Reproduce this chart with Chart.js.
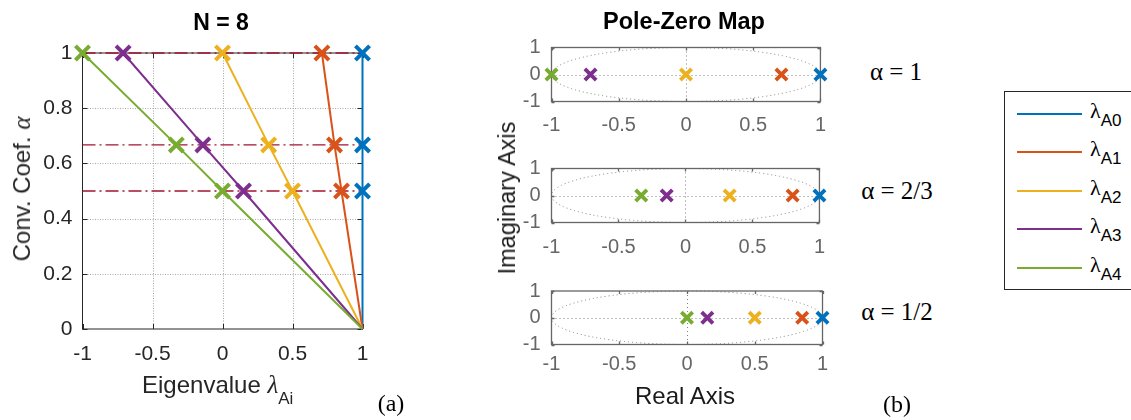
<!DOCTYPE html>
<html>
<head>
<meta charset="utf-8">
<script src="https://cdn.jsdelivr.net/npm/chart.js@4.4.1/dist/chart.umd.min.js"></script>
<style>
  html, body { margin: 0; padding: 0; background: #fff; }
  body { width: 1131px; height: 420px; overflow: hidden; position: relative; }
  canvas { position: absolute; }
  .t { position: absolute; white-space: nowrap; line-height: 1; transform: translate(-50%, -50%); }
  .sans { font-family: 'Liberation Sans', Arial, Helvetica, sans-serif; }
  .serif { font-family: 'Liberation Serif', 'Times New Roman', serif; }
  .it { font-family: 'Liberation Serif', 'Times New Roman', serif; font-style: italic; line-height: 0; }
  .sub { position: relative; line-height: 0; }
  #legend { position: absolute; left: 1004px; top: 91px; width: 150px; height: 199px;
            border: 1px solid #262626; box-sizing: border-box; background: #fff; }
  .lg-line { position: absolute; height: 2px; }
  .lg-text { position: absolute; white-space: nowrap; line-height: 1; color: #000; }
</style>
</head>
<body>
<canvas id="eig" width="400" height="420" style="left:0;top:0"></canvas>
<canvas id="pz1" width="360" height="140" style="left:480px;top:0"></canvas>
<canvas id="pz2" width="360" height="130" style="left:480px;top:140px"></canvas>
<canvas id="pz3" width="360" height="150" style="left:480px;top:270px"></canvas>

<div class="t sans" style="left:221px;top:22px;font-size:23px;font-weight:bold;color:#000">N = 8</div>
<div class="t sans" style="left:684px;top:22px;font-size:23.5px;font-weight:bold;color:#000">Pole-Zero Map</div>

<div class="sans" style="position:absolute;left:142px;top:373px;font-size:24px;line-height:24px;color:#262626;white-space:nowrap">Eigenvalue <span class="it" style="font-size:25px">&lambda;</span><span class="sub" style="font-size:17px;top:11px">Ai</span></div>
<div class="sans" style="position:absolute;left:22px;top:189px;font-size:24px;line-height:24px;color:#262626;white-space:nowrap;transform:translate(-50%,-50%) rotate(-90deg)">Conv. Coef. <span class="it" style="font-size:25px">&alpha;</span></div>

<div class="sans" style="position:absolute;left:507px;top:198px;font-size:23.5px;line-height:24px;color:#1a1a1a;white-space:nowrap;transform:translate(-50%,-50%) rotate(-90deg)">Imaginary Axis</div>
<div class="t sans" style="left:685px;top:396px;font-size:24px;color:#1a1a1a">Real Axis</div>

<div class="t serif" style="left:896px;top:71px;font-size:25px;color:#000">&alpha; = 1</div>
<div class="t serif" style="left:897px;top:190px;font-size:25px;color:#000">&alpha; = 2/3</div>
<div class="t serif" style="left:897px;top:311px;font-size:25px;color:#000">&alpha; = 1/2</div>

<div class="t serif" style="left:391px;top:403px;font-size:24px;color:#000">(a)</div>
<div class="t serif" style="left:897px;top:404px;font-size:24px;color:#000">(b)</div>

<div id="legend"></div>

<script>
// Series: eigenvalues λ_A0 … λ_A4 of the N = 8 system
const seriesNames = ['A0', 'A1', 'A2', 'A3', 'A4'];
const seriesColors = ['#0072BD', '#D95319', '#EDB120', '#7E2F8E', '#77AC30'];

// convergence coefficient values at which each eigenvalue is evaluated
const alphaValues = [1, 0.667, 0.5, 0];
// highlighted α levels (dash-dot guides)
const alphaLevels = [1, 0.667, 0.5];

// eigenvalue of each series at α = 1, 2/3, 1/2, 0
const lambdaA0 = [1, 1, 1, 1];
const lambdaA1 = [0.71, 0.80, 0.85, 1];
const lambdaA2 = [0, 0.33, 0.5, 1];
const lambdaA3 = [-0.71, -0.14, 0.15, 1];
const lambdaA4 = [-1, -0.33, 0, 1];
const lambdaSeries = [lambdaA0, lambdaA1, lambdaA2, lambdaA3, lambdaA4];

// pole locations (real parts, imaginary part 0) for the three α values, ordered A0 … A4
const polesAlpha1 = [1, 0.71, 0, -0.71, -1];
const polesAlpha23 = [1, 0.80, 0.33, -0.14, -0.33];
const polesAlpha12 = [1, 0.85, 0.5, 0.15, 0];

// tick labels
const realTicks = [-1, -0.5, 0, 0.5, 1];
const alphaTicks = [0, 0.2, 0.4, 0.6, 0.8, 1];
const imagTicks = [-1, 0, 1];

// ---------- legend ----------
const legendEl = document.getElementById('legend');
seriesNames.forEach((name, i) => {
  const rowY = 21.7 + i * 38.5;            // row centre inside the box
  const line = document.createElement('div');
  line.className = 'lg-line';
  line.style.cssText = `left:12px;top:${rowY - 1}px;width:65px;background:${seriesColors[i]}`;
  legendEl.appendChild(line);
  const txt = document.createElement('div');
  txt.className = 'lg-text';
  txt.style.cssText = `left:85px;top:${rowY - 14}px`;
  txt.innerHTML = `<span class="serif" style="font-size:22px">&lambda;</span>` +
                  `<span class="sans sub" style="font-size:17px;top:8px">${name}</span>`;
  legendEl.appendChild(txt);
});

const fixedTicks = arr => scale => { scale.ticks = arr.map(v => ({ value: v })); };
const tickText = v => String(v);

// ---------- eigenvalue vs α chart ----------
const eigFrame = {
  id: 'eigFrame',
  beforeDatasetsDraw(chart) {
    const { ctx, chartArea: a, scales: { x, y } } = chart;
    ctx.save();
    ctx.lineWidth = 1;
    ctx.strokeStyle = '#a8a8a8';
    ctx.setLineDash([1, 1.5]);
    ctx.beginPath();
    x.ticks.forEach(t => {
      const p = Math.round(x.getPixelForValue(t.value)) + 0.5;
      if (p > a.left + 2 && p < a.right - 2) { ctx.moveTo(p, a.top); ctx.lineTo(p, a.bottom); }
    });
    y.ticks.forEach(t => {
      const p = Math.round(y.getPixelForValue(t.value)) + 0.5;
      if (p > a.top + 2 && p < a.bottom - 2) { ctx.moveTo(a.left, p); ctx.lineTo(a.right, p); }
    });
    ctx.stroke();
    ctx.setLineDash([]);
    ctx.strokeStyle = '#262626';
    ctx.strokeRect(a.left, a.top, a.right - a.left, a.bottom - a.top);
    ctx.beginPath();
    const L = 5;
    x.ticks.forEach(t => {
      const p = Math.round(x.getPixelForValue(t.value)) + 0.5;
      ctx.moveTo(p, a.bottom); ctx.lineTo(p, a.bottom - L);
      ctx.moveTo(p, a.top); ctx.lineTo(p, a.top + L);
    });
    y.ticks.forEach(t => {
      const p = Math.round(y.getPixelForValue(t.value)) + 0.5;
      ctx.moveTo(a.left, p); ctx.lineTo(a.left + L, p);
      ctx.moveTo(a.right, p); ctx.lineTo(a.right - L, p);
    });
    ctx.stroke();
    ctx.restore();
  }
};

const eigDatasets = lambdaSeries.map((vals, i) => ({
  label: 'λ' + seriesNames[i],
  data: vals.map((v, k) => ({ x: v, y: alphaValues[k] })),
  showLine: true,
  borderColor: seriesColors[i],
  borderWidth: 2,
  pointStyle: 'crossRot',
  pointRadius: vals.map((v, k) => (k < alphaLevels.length ? 10 : 0)),
  pointBorderColor: seriesColors[i],
  pointBackgroundColor: seriesColors[i],
  pointBorderWidth: 4,
  clip: false,
  order: seriesNames.length - i
}));
alphaLevels.forEach(a => {
  eigDatasets.push({
    label: 'α = ' + a,
    data: [{ x: -1, y: a }, { x: 1, y: a }],
    showLine: true,
    borderColor: '#A2142F',
    borderWidth: 1.3,
    borderDash: [13, 4, 2, 4],
    pointRadius: 0,
    clip: false,
    order: 20
  });
});

const tickFontL = { family: "'Liberation Sans', Arial, sans-serif", size: 21, lineHeight: 1 };

new Chart(document.getElementById('eig'), {
  type: 'scatter',
  data: { datasets: eigDatasets },
  options: {
    responsive: false,
    animation: false,
    events: [],
    layout: { padding: { left: 0, top: 53, right: 37.5, bottom: 0 } },
    plugins: { legend: { display: false }, tooltip: { enabled: false } },
    scales: {
      x: {
        type: 'linear', min: -1, max: 1,
        afterBuildTicks: fixedTicks(realTicks),
        afterFit: s => { s.height = 91; },
        grid: { display: false, drawTicks: false }, border: { display: false },
        ticks: { callback: tickText, padding: 15, color: '#262626', font: tickFontL, maxRotation: 0, autoSkip: false }
      },
      y: {
        type: 'linear', min: 0, max: 1,
        afterBuildTicks: fixedTicks(alphaTicks),
        afterFit: s => { s.width = 82.5; },
        grid: { display: false, drawTicks: false }, border: { display: false },
        ticks: { callback: tickText, padding: 10, color: '#262626', font: tickFontL, autoSkip: false }
      }
    }
  },
  plugins: [eigFrame]
});

// ---------- pole-zero maps ----------
const pzFrame = {
  id: 'pzFrame',
  beforeDatasetsDraw(chart) {
    const { ctx, chartArea: a, scales: { x, y } } = chart;
    const cx = x.getPixelForValue(0), cy = y.getPixelForValue(0);
    const rx = x.getPixelForValue(1) - cx, ry = cy - y.getPixelForValue(1);
    ctx.save();
    ctx.lineWidth = 1;
    ctx.strokeStyle = '#808080';
    ctx.setLineDash([1, 3]);
    ctx.beginPath();
    ctx.ellipse(cx, cy, rx, ry, 0, 0, Math.PI * 2);
    ctx.stroke();
    ctx.beginPath();
    const px = Math.round(cx) + 0.5, py = Math.round(cy) + 0.5;
    ctx.moveTo(px, a.top); ctx.lineTo(px, a.bottom);
    ctx.moveTo(a.left, py); ctx.lineTo(a.right, py);
    ctx.stroke();
    ctx.setLineDash([]);
    ctx.strokeStyle = '#666666';
    ctx.lineWidth = 1.3;
    ctx.strokeRect(a.left, a.top, a.right - a.left, a.bottom - a.top);
    ctx.beginPath();
    const L = 3;
    x.ticks.forEach(t => {
      const p = Math.round(x.getPixelForValue(t.value)) + 0.5;
      ctx.moveTo(p, a.bottom); ctx.lineTo(p, a.bottom - L);
      ctx.moveTo(p, a.top); ctx.lineTo(p, a.top + L);
    });
    y.ticks.forEach(t => {
      const p = Math.round(y.getPixelForValue(t.value)) + 0.5;
      ctx.moveTo(a.left, p); ctx.lineTo(a.left + L, p);
      ctx.moveTo(a.right, p); ctx.lineTo(a.right - L, p);
    });
    ctx.stroke();
    ctx.restore();
  }
};

const tickFontR = { family: "'Liberation Sans', Arial, sans-serif", size: 20, lineHeight: 1 };

function poleMap(id, poles, padTop, xHeight, xPad) {
  new Chart(document.getElementById(id), {
    type: 'scatter',
    data: {
      datasets: poles.map((re, i) => ({
        label: 'λ' + seriesNames[i],
        data: [{ x: re, y: 0 }],
        pointStyle: 'crossRot',
        pointRadius: 8,
        pointBorderWidth: 3.8,
        pointBorderColor: seriesColors[i],
        pointBackgroundColor: seriesColors[i],
        clip: false
      }))
    },
    options: {
      responsive: false,
      animation: false,
      events: [],
      layout: { padding: { left: 0, top: padTop, right: 17.5, bottom: 0 } },
      plugins: { legend: { display: false }, tooltip: { enabled: false } },
      scales: {
        x: {
          type: 'linear', min: -1, max: 1,
          afterBuildTicks: fixedTicks(realTicks),
          afterFit: s => { s.height = xHeight; },
          grid: { display: false, drawTicks: false }, border: { display: false },
          ticks: { callback: tickText, padding: xPad, color: '#666666', font: tickFontR, maxRotation: 0, autoSkip: false }
        },
        y: {
          type: 'linear', min: -1, max: 1,
          afterBuildTicks: fixedTicks(imagTicks),
          afterFit: s => { s.width = 71.5; },
          grid: { display: false, drawTicks: false }, border: { display: false },
          ticks: { callback: tickText, padding: 11, color: '#666666', font: tickFontR, autoSkip: false }
        }
      }
    },
    plugins: [pzFrame]
  });
}

poleMap('pz1', polesAlpha1, 47.5, 38.5, 14);
poleMap('pz2', polesAlpha23, 28.5, 47.5, 15);
poleMap('pz3', polesAlpha12, 19.5, 75.5, 10);
</script>
</body>
</html>
